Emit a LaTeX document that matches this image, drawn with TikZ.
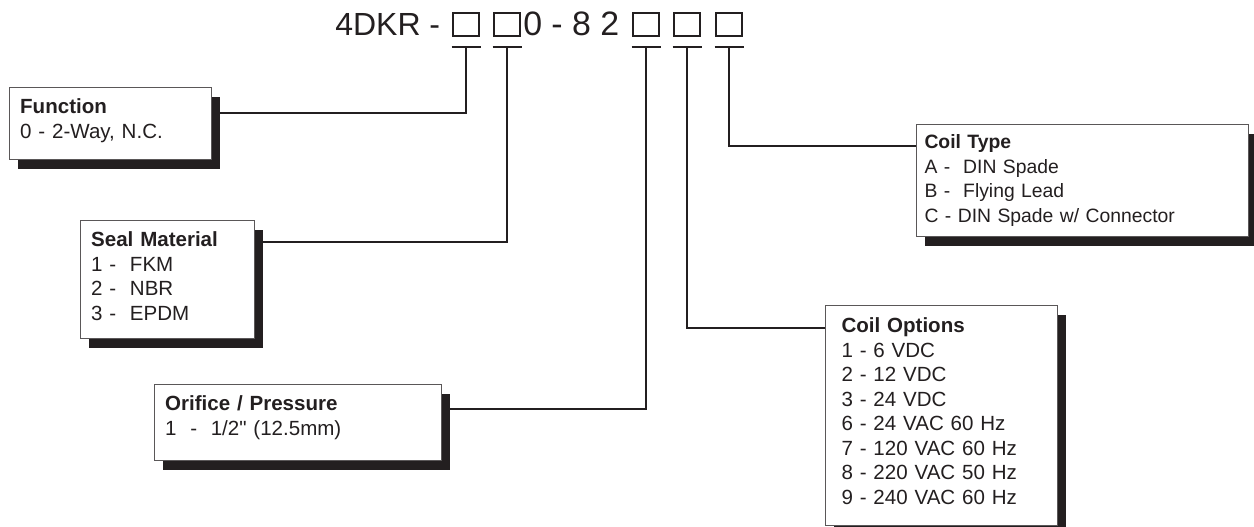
\documentclass[tikz,border=0pt]{standalone}
\usepackage{fontspec}
\setmainfont{Liberation Sans}
\usetikzlibrary{calc}
\usetikzlibrary{shadows}
\definecolor{ink}{HTML}{231F20}

\begin{document}
\begin{tikzpicture}
\tikzstyle{sq} = [draw=ink,line width=1.4pt,minimum width=19.5pt,minimum height=17.25pt,inner sep=0pt]
\tikzstyle{tee} = [draw=ink,line width=1.4pt]
\tikzstyle{link} = [draw=ink,line width=1.5pt]
\tikzstyle{card} = [draw=ink!75,line width=0.8pt,fill=white,text=ink,anchor=north west,align=left,
  inner xsep=8pt,inner ysep=0pt,text height=19.5pt,font=\fontsize{15.4}{18.4}\selectfont,
  drop shadow={shadow xshift=6pt,shadow yshift=-7pt,fill=ink,opacity=1}]

\begin{scope}[x=0.75pt,y=-0.75pt]
\useasboundingbox (0,0) rectangle (1254,527);

% part number
\draw(335,36) node[anchor=base west,inner sep=0pt,text=ink,font=\fontsize{24}{28}\selectfont] (pre) {4DKR -};
\draw(523,36) node[anchor=base west,inner sep=0pt,text=ink,font=\fontsize{25.4}{28}\selectfont] (mid) {0 - 8 2};
\draw(466,24.5) node[sq] (s1) {};
\draw(507,24.5) node[sq] (s2) {};
\draw(646,24.5) node[sq] (s3) {};
\draw(687,24.5) node[sq] (s4) {};
\draw(729,24.5) node[sq] (s5) {};

% option cards
\draw(9,87) node[card,text width=135.5pt,text depth=34.5pt] (fn)
  {\textbf{Function}\\0 - 2-Way, N.C.};
\draw(80,220) node[card,text width=114.5pt,text depth=69pt,text height=19.5pt] (seal)
  {\textbf{Seal Material}\\1 -\ \ FKM\\2 -\ \ NBR\\3 -\ \ EPDM};
\draw(154,384) node[card,text width=199.25pt,text depth=37.5pt] (orf)
  {\textbf{Orifice / Pressure}\\1\ \ -\ \ 1/2{\addfontfeature{Ligatures=TeXOff}"} (12.5mm)};
\draw(916,124) node[card,inner xsep=6pt,text width=237pt,text height=18pt,text depth=66pt,
  font=\fontsize{14.5}{18.4}\selectfont] (ct)
  {\textbf{Coil Type}\\A -\ \ DIN Spade\\B -\ \ Flying Lead\\C - DIN Spade w/ Connector};
\draw(825,305) node[card,inner xsep=12pt,text width=150pt,text height=20.25pt,text depth=144.75pt] (co)
  {\textbf{Coil Options}\\1 - 6 VDC\\2 - 12 VDC\\3 - 24 VDC\\6 - 24 VAC 60 Hz\\7 - 120 VAC 60 Hz\\8 - 220 VAC 50 Hz\\9 - 240 VAC 60 Hz};

% tees under the boxes
\coordinate (t1) at ($(s1.south)+(0,10)$);
\coordinate (t2) at ($(s2.south)+(0,10)$);
\coordinate (t3) at ($(s3.south)+(0,10)$);
\coordinate (t4) at ($(s4.south)+(0,10)$);
\coordinate (t5) at ($(s5.south)+(0,10)$);
\draw[tee] ($(t1)+(-14.5,0)$) -- ($(t1)+(14.5,0)$);
\draw[tee] ($(t2)+(-14.5,0)$) -- ($(t2)+(14.5,0)$);
\draw[tee] ($(t3)+(-14.5,0)$) -- ($(t3)+(14.5,0)$);
\draw[tee] ($(t4)+(-14.5,0)$) -- ($(t4)+(14.5,0)$);
\draw[tee] ($(t5)+(-14.5,0)$) -- ($(t5)+(14.5,0)$);

\draw[link] (t1) |- ($(fn.north east)+(0,26)$);
\draw[link] (t2) |- ($(seal.north east)+(0,22)$);
\draw[link] (t3) |- ($(orf.north east)+(0,25)$);
\draw[link] (t4) |- ($(co.north west)+(0,23)$);
\draw[link] (t5) |- ($(ct.north west)+(0,22)$);

\end{scope}
\end{tikzpicture}
\end{document}
